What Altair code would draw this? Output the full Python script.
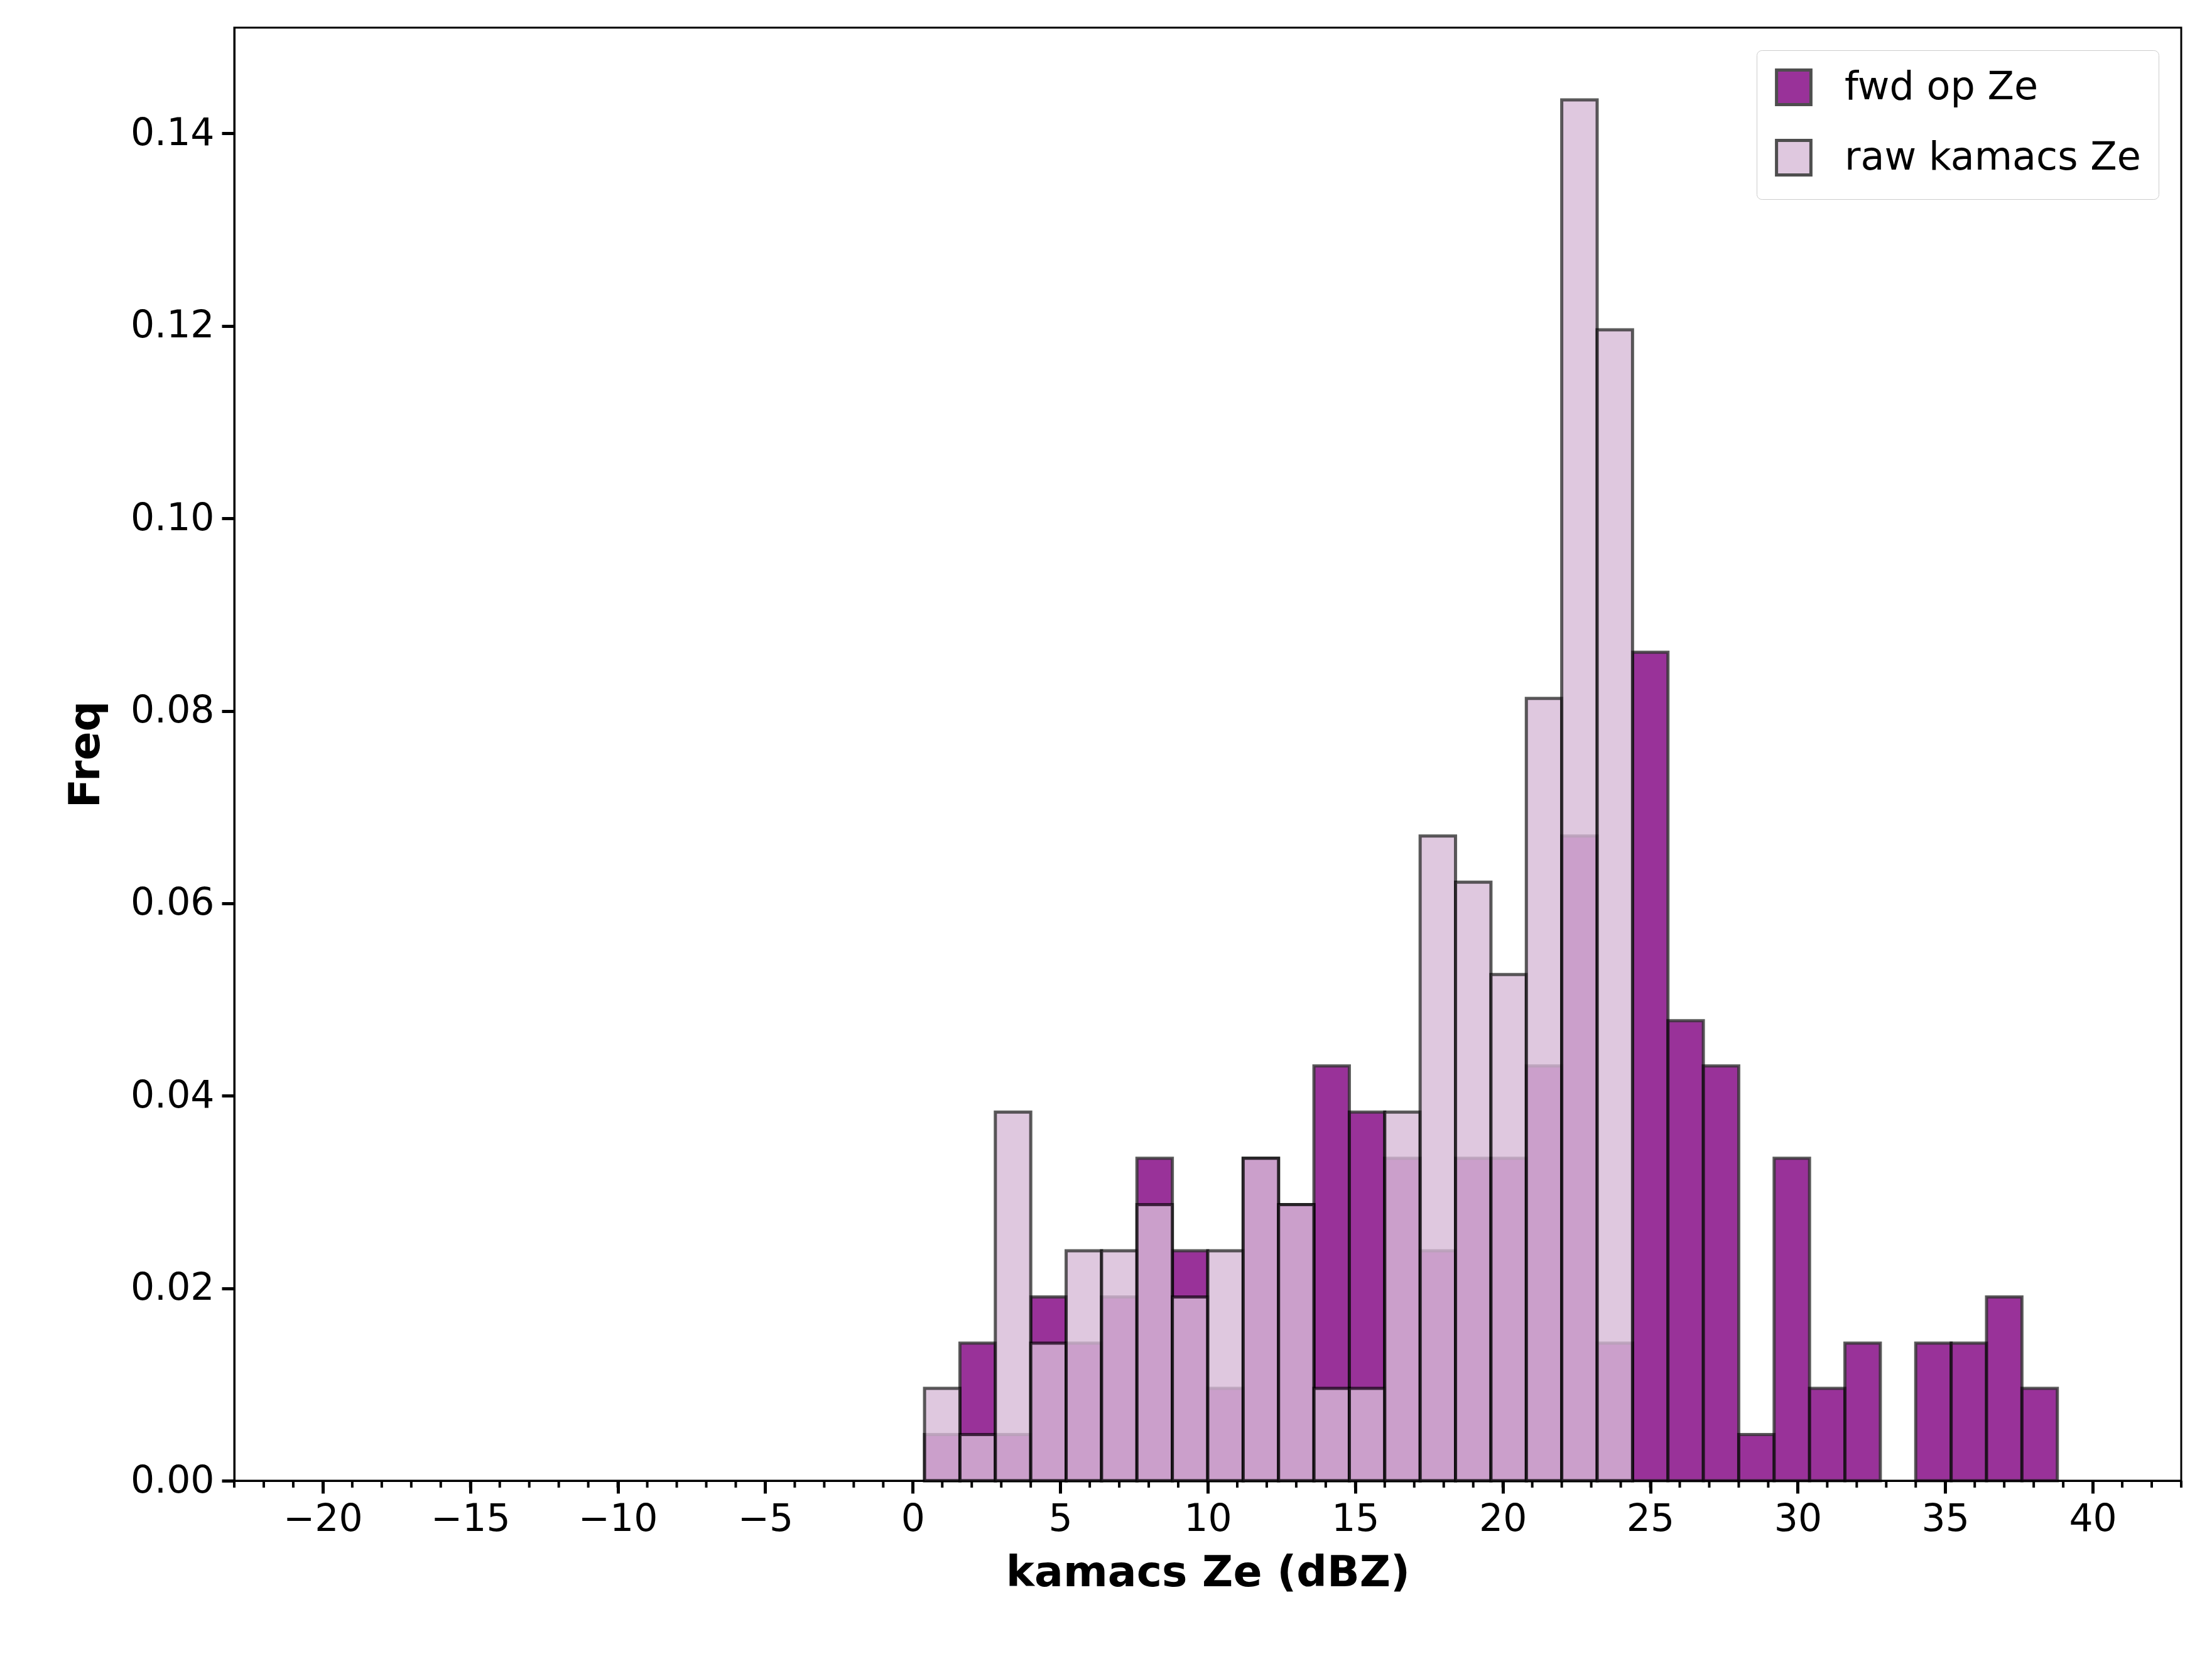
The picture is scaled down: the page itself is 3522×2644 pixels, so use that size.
import altair as alt
import pandas as pd

edges = [0.4 + 1.2 * i for i in range(33)]
fwd = [0.0048, 0.0143, 0.0048, 0.0191, 0.0143, 0.0191, 0.0335, 0.0239, 0.0096, 0.0335,
       0.0287, 0.0431, 0.0383, 0.0335, 0.0239, 0.0335, 0.0335, 0.0431, 0.0670, 0.0143,
       0.0861, 0.0478, 0.0431, 0.0048, 0.0335, 0.0096, 0.0143, 0.0, 0.0143, 0.0143,
       0.0191, 0.0096]
raw = [0.0096, 0.0048, 0.0383, 0.0143, 0.0239, 0.0239, 0.0287, 0.0191, 0.0239, 0.0335,
       0.0287, 0.0096, 0.0096, 0.0383, 0.0670, 0.0622, 0.0526, 0.0813, 0.1435, 0.1196,
       0, 0, 0, 0, 0, 0, 0, 0, 0, 0, 0, 0]
series = ["fwd op Ze", "raw kamacs Ze"]
colors = ["#800080", "#d8bbd8"]

rows = []
for name, vals in zip(series, [fwd, raw]):
    for i, v in enumerate(vals):
        if v > 0:
            rows.append({"series": name, "lo": edges[i], "hi": edges[i + 1], "freq": v})
df = pd.DataFrame(rows)
minor = pd.DataFrame({"x": list(range(-23, 44))})

W, H = 3100, 2313
xs = alt.Scale(domain=[-23, 43], nice=False, zero=False)
ys = alt.Scale(domain=[0, 0.151], nice=False)
color = alt.Color("series:N", scale=alt.Scale(domain=series, range=colors),
                  legend=alt.Legend(title=None, orient="top-right", symbolType="square",
                                    symbolSize=3000, symbolStrokeColor="#222", symbolStrokeWidth=5,
                                    symbolOpacity=0.8, labelFontSize=62, rowPadding=36,
                                    padding=28, strokeColor="#ccc", fillColor="white",
                                    cornerRadius=8, labelOffset=50, labelLimit=0,
                                    offset=36))

def layer(name):
    return alt.Chart(df).transform_filter(alt.datum.series == name).mark_bar(
        opacity=0.8, stroke="#000", strokeOpacity=0.8, strokeWidth=5
    ).encode(
        x=alt.X("lo:Q", scale=xs, title="kamacs Ze (dBZ)",
                axis=alt.Axis(values=list(range(-20, 41, 5)), grid=False)),
        x2="hi:Q",
        y=alt.Y("freq:Q", scale=ys, title="Freq",
                axis=alt.Axis(values=[0, 0.02, 0.04, 0.06, 0.08, 0.1, 0.12, 0.14],
                              format=".2f", grid=False)),
        y2=alt.datum(0),
        color=color,
    )

ticks = alt.Chart(minor).mark_rule(color="black", strokeWidth=4).encode(
    x=alt.X("x:Q", scale=xs), y=alt.value(H), y2=alt.value(H + 11))

chart = alt.layer(layer(series[0]), layer(series[1]), ticks).properties(
    width=W, height=H, background="white",
    padding={"left": 95, "top": 36, "right": 20, "bottom": 20}
).configure_view(stroke="black", strokeWidth=3).configure_axis(
    labelFontSize=60, titleFontSize=68, titleFontWeight="bold", labelColor="black",
    titleColor="black", domainColor="black", domainWidth=3, tickColor="black",
    tickWidth=5, tickSize=20, labelPadding=12, labelFont="DejaVu Sans", titleFont="DejaVu Sans"
).configure_axisY(titlePadding=36).configure_axisX(titlePadding=22).configure_legend(
    labelFont="DejaVu Sans", labelColor="black")

chart.save("out.html", embed_options={"renderer": "svg", "actions": False})
